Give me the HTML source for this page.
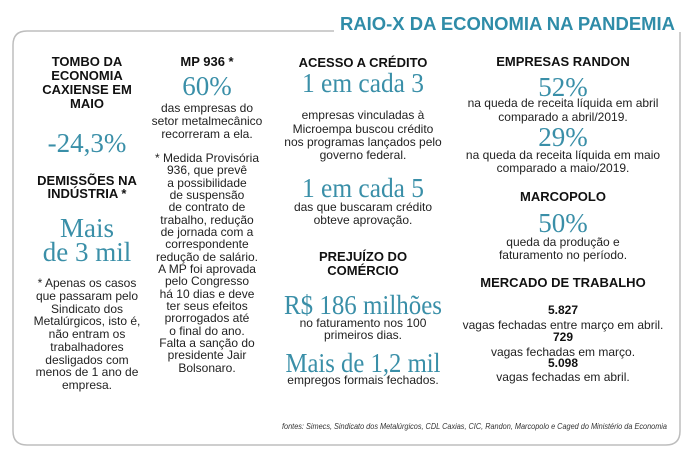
<!DOCTYPE html>
<html><head><meta charset="utf-8"><style>
html,body{margin:0;padding:0;background:#fff;}
svg{display:block;}
.h{font-family:"Liberation Sans",sans-serif;font-weight:bold;font-size:13px;fill:#111;text-anchor:middle;}
.b{font-family:"Liberation Sans",sans-serif;font-size:12px;fill:#222;text-anchor:middle;}
.n{font-family:"Liberation Serif",serif;font-size:27px;fill:#3a8fa8;text-anchor:middle;}
</style></head><body>
<svg width="700" height="473" viewBox="0 0 700 473" xmlns="http://www.w3.org/2000/svg">
<rect width="700" height="473" fill="#fff"/>
<path d="M334 31 H27 Q13 31 13 45 V431 Q13 445 27 445 H666 Q680 445 680 431 V32" fill="none" stroke="#bdbdbd" stroke-width="1.5"/>
<text x="340" y="30" textLength="335" lengthAdjust="spacingAndGlyphs" style="font-family:'Liberation Sans',sans-serif;font-weight:bold;font-size:18px;fill:#2f8ca8">RAIO-X DA ECONOMIA NA PANDEMIA</text>

<!-- col1 -->
<g>
<text class="h" x="87" y="66">TOMBO DA</text>
<text class="h" x="87" y="80">ECONOMIA</text>
<text class="h" x="87" y="94">CAXIENSE EM</text>
<text class="h" x="87" y="108">MAIO</text>
<text class="n" x="87" y="152">-24,3%</text>
<text class="h" x="87" y="185">DEMISSÕES NA</text>
<text class="h" x="87" y="198">INDÚSTRIA *</text>
<text class="n" x="87" y="237">Mais</text>
<text class="n" x="87" y="261">de 3 mil</text>
<text class="b" x="87" y="287">* Apenas os casos</text>
<text class="b" x="87" y="300">que passaram pelo</text>
<text class="b" x="87" y="313">Sindicato dos</text>
<text class="b" x="87" y="325">Metalúrgicos, isto é,</text>
<text class="b" x="87" y="338">não entram os</text>
<text class="b" x="87" y="351">trabalhadores</text>
<text class="b" x="87" y="364">desligados com</text>
<text class="b" x="87" y="376">menos de 1 ano de</text>
<text class="b" x="87" y="389">empresa.</text>
</g>

<!-- col2 -->
<g>
<text class="h" x="207" y="66">MP 936 *</text>
<text class="n" x="207" y="95">60%</text>
<text class="b" x="207" y="112">das empresas do</text>
<text class="b" x="207" y="125">setor metalmecânico</text>
<text class="b" x="207" y="138">recorreram a ela.</text>
<text class="b" x="207" y="162">* Medida Provisória</text>
<text class="b" x="207" y="174">936, que prevê</text>
<text class="b" x="207" y="187">a possibilidade</text>
<text class="b" x="207" y="199">de suspensão</text>
<text class="b" x="207" y="211">de contrato de</text>
<text class="b" x="207" y="224">trabalho, redução</text>
<text class="b" x="207" y="236">de jornada com a</text>
<text class="b" x="207" y="248">correspondente</text>
<text class="b" x="207" y="261">redução de salário.</text>
<text class="b" x="207" y="273">A MP foi aprovada</text>
<text class="b" x="207" y="285">pelo Congresso</text>
<text class="b" x="207" y="298">há 10 dias e deve</text>
<text class="b" x="207" y="310">ter seus efeitos</text>
<text class="b" x="207" y="322">prorrogados até</text>
<text class="b" x="207" y="335">o final do ano.</text>
<text class="b" x="207" y="347">Falta a sanção do</text>
<text class="b" x="207" y="359">presidente Jair</text>
<text class="b" x="207" y="372">Bolsonaro.</text>
</g>

<!-- col3 -->
<g>
<text class="h" x="363" y="67">ACESSO A CRÉDITO</text>
<text class="n" x="363" y="92" textLength="122" lengthAdjust="spacingAndGlyphs">1 em cada 3</text>
<text class="b" x="363" y="119">empresas vinculadas à</text>
<text class="b" x="363" y="133">Microempa buscou crédito</text>
<text class="b" x="363" y="146">nos programas lançados pelo</text>
<text class="b" x="363" y="159">governo federal.</text>
<text class="n" x="363" y="197" textLength="122" lengthAdjust="spacingAndGlyphs">1 em cada 5</text>
<text class="b" x="363" y="211">das que buscaram crédito</text>
<text class="b" x="363" y="224">obteve aprovação.</text>
<text class="h" x="363" y="261">PREJUÍZO DO</text>
<text class="h" x="363" y="275">COMÉRCIO</text>
<text class="n" x="363" y="314" textLength="158" lengthAdjust="spacingAndGlyphs">R$ 186 milhões</text>
<text class="b" x="363" y="327">no faturamento nos 100</text>
<text class="b" x="363" y="339">primeiros dias.</text>
<text class="n" x="363" y="372" textLength="155" lengthAdjust="spacingAndGlyphs">Mais de 1,2 mil</text>
<text class="b" x="363" y="384">empregos formais fechados.</text>
</g>

<!-- col4 -->
<g>
<text class="h" x="563" y="66">EMPRESAS RANDON</text>
<text class="n" x="563" y="96">52%</text>
<text class="b" x="563" y="107">na queda de receita líquida em abril</text>
<text class="b" x="563" y="121">comparado a abril/2019.</text>
<text class="n" x="563" y="146">29%</text>
<text class="b" x="563" y="159">na queda da receita líquida em maio</text>
<text class="b" x="563" y="172">comparado a maio/2019.</text>
<text class="h" x="563" y="201">MARCOPOLO</text>
<text class="n" x="563" y="232">50%</text>
<text class="b" x="563" y="246">queda da produção e</text>
<text class="b" x="563" y="259">faturamento no período.</text>
<text class="h" x="563" y="287">MERCADO DE TRABALHO</text>
<text class="h" x="563" y="314" style="font-size:12px">5.827</text>
<text class="b" x="563" y="329">vagas fechadas entre março em abril.</text>
<text class="h" x="563" y="341" style="font-size:12px">729</text>
<text class="b" x="563" y="356">vagas fechadas em março.</text>
<text class="h" x="563" y="367" style="font-size:12px">5.098</text>
<text class="b" x="563" y="381">vagas fechadas em abril.</text>
</g>

<text x="667" y="429" text-anchor="end" textLength="385" lengthAdjust="spacingAndGlyphs" style="font-family:'Liberation Sans',sans-serif;font-style:italic;font-size:8px;fill:#333">fontes: Simecs, Sindicato dos Metalúrgicos, CDL Caxias, CIC, Randon, Marcopolo e Caged do Ministério da Economia</text>
</svg>
</body></html>
